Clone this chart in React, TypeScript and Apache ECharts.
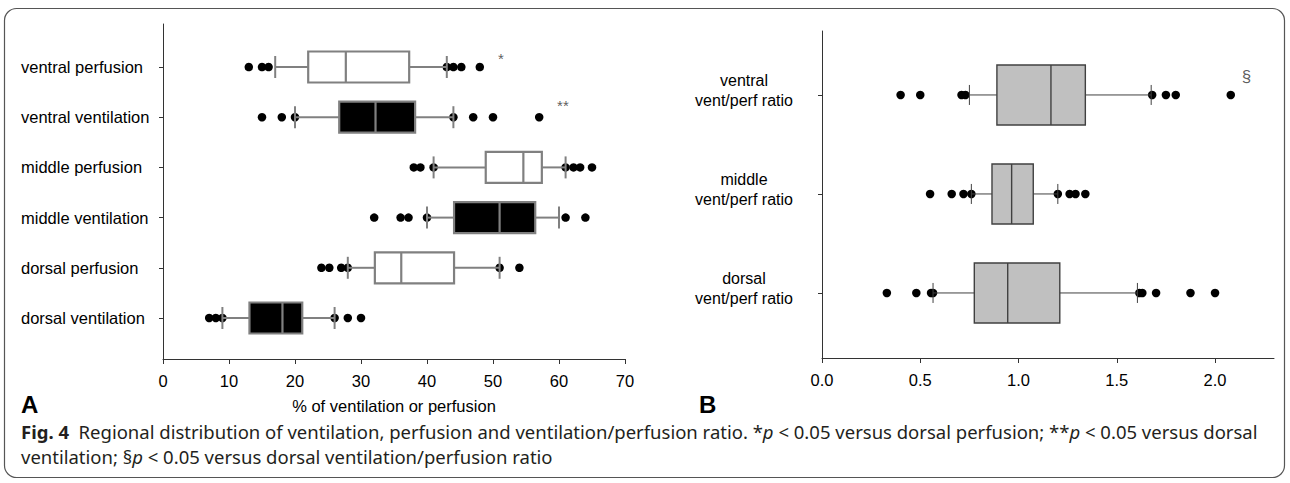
import React, { useEffect, useRef } from "react";
import * as echarts from "echarts";

// ---------- Panel A data ----------
const leftCategories = [
  "ventral perfusion",
  "ventral ventilation",
  "middle perfusion",
  "middle ventilation",
  "dorsal perfusion",
  "dorsal ventilation",
];
const leftPositions = [6, 5, 4, 3, 2, 1];
const leftFilled = [0, 1, 0, 1, 0, 1];
const leftWhiskerLow = [17, 20, 41, 40, 28, 9];
const leftQ1 = [22, 26.7, 48.9, 44.1, 32.1, 13.1];
const leftMedian = [27.7, 32.2, 54.6, 51.0, 36.1, 18.1];
const leftQ3 = [37.3, 38.2, 57.4, 56.4, 44.1, 21.1];
const leftWhiskerHigh = [43, 44, 61, 60, 51, 26];
const leftOutliers = [
  [13, 15, 16, 43, 44, 45.2, 48],
  [15, 18, 20, 44, 47, 50, 57],
  [38, 39, 41, 61, 62.2, 63.2, 65],
  [32, 36, 37.2, 40, 61, 64],
  [24, 25.2, 27, 28, 51, 54],
  [7, 8, 9, 26, 28, 30],
];
const leftNotes = ["*", "**"];
const leftNoteX = [51.2, 60.6];
const leftNoteY = [6.17, 5.24];
const leftTicks = [0, 10, 20, 30, 40, 50, 60, 70];

// ---------- Panel B data ----------
const rightCategories = [
  "ventral\nvent/perf ratio",
  "middle\nvent/perf ratio",
  "dorsal\nvent/perf ratio",
];
const rightPositions = [3, 2, 1];
const rightWhiskerLow = [0.75, 0.76, 0.565];
const rightQ1 = [0.89, 0.865, 0.775];
const rightMedian = [1.165, 0.965, 0.945];
const rightQ3 = [1.34, 1.075, 1.21];
const rightWhiskerHigh = [1.675, 1.2, 1.605];
const rightOutliers = [
  [0.4, 0.5, 0.71, 0.73, 1.68, 1.75, 1.8, 2.08],
  [0.55, 0.66, 0.72, 0.76, 1.2, 1.26, 1.29, 1.34],
  [0.33, 0.48, 0.555, 0.565, 1.615, 1.63, 1.7, 1.875, 2.0],
];
const rightNotes = ["§"];
const rightNoteX = [2.16];
const rightNoteY = [3.19];
const rightTicks = [0, 0.5, 1, 1.5, 2];

const AXIS_COLOR = "#333333";
const FONT = "'Liberation Sans', Arial, sans-serif";
const CAPTION_FONT = "'Noto Sans', 'Open Sans', sans-serif";
const CAPTION_SIZE = 18.5;
const LABEL_SIZE = 16.5;

function makeBoxRender(boxHalf: number, capHalf: number, style: any) {
  return (params: any, api: any) => {
    const pos = api.value(0);
    const lo = api.coord([api.value(1), pos]);
    const q1 = api.coord([api.value(2), pos]);
    const md = api.coord([api.value(3), pos]);
    const q3 = api.coord([api.value(4), pos]);
    const hi = api.coord([api.value(5), pos]);
    const filled = api.value(6) === 1;
    const y = lo[1];
    const lineStyle = { stroke: style.whisker, lineWidth: style.whiskerWidth };
    return {
      type: "group",
      children: [
        { type: "line", shape: { x1: lo[0], y1: y, x2: q1[0], y2: y }, style: lineStyle },
        { type: "line", shape: { x1: q3[0], y1: y, x2: hi[0], y2: y }, style: lineStyle },
        {
          type: "rect",
          shape: { x: q1[0], y: y - boxHalf, width: q3[0] - q1[0], height: boxHalf * 2 },
          style: {
            fill: filled ? style.filledFill : style.fill,
            stroke: style.border,
            lineWidth: style.borderWidth,
          },
        },
        {
          type: "line",
          shape: { x1: md[0], y1: y - boxHalf, x2: md[0], y2: y + boxHalf },
          style: { stroke: style.median, lineWidth: style.borderWidth },
        },
        { type: "line", shape: { x1: lo[0], y1: y - capHalf, x2: lo[0], y2: y + capHalf }, style: lineStyle },
        { type: "line", shape: { x1: hi[0], y1: y - capHalf, x2: hi[0], y2: y + capHalf }, style: lineStyle },
      ],
    };
  };
}

export default function App() {
  const ref = useRef<HTMLDivElement>(null);

  useEffect(() => {
    if (!ref.current) return;
    const chart = echarts.init(ref.current, null, { renderer: "svg" });

    const leftBoxData = leftCategories.map((_, i) => [
      leftPositions[i],
      leftWhiskerLow[i],
      leftQ1[i],
      leftMedian[i],
      leftQ3[i],
      leftWhiskerHigh[i],
      leftFilled[i],
    ]);
    const leftOutlierData: number[][] = [];
    leftOutliers.forEach((arr, i) => arr.forEach((v) => leftOutlierData.push([v, leftPositions[i]])));

    const rightBoxData = rightCategories.map((_, i) => [
      rightPositions[i],
      rightWhiskerLow[i],
      rightQ1[i],
      rightMedian[i],
      rightQ3[i],
      rightWhiskerHigh[i],
      0,
    ]);
    const rightOutlierData: number[][] = [];
    rightOutliers.forEach((arr, i) => arr.forEach((v) => rightOutlierData.push([v, rightPositions[i]])));
    // two-line labels sit a few pixels above their tick in the original
    const rightLabelValues = rightPositions.map((p) => p + 0.04);

    const axisCommon = {
      axisLine: { show: true, onZero: false, lineStyle: { color: AXIS_COLOR, width: 1 } },
      axisTick: { show: true, inside: false, length: 5, lineStyle: { color: AXIS_COLOR } },
      splitLine: { show: false },
    };

    const richCaption = {
      b: { fontWeight: "bold", fontSize: CAPTION_SIZE, fontFamily: CAPTION_FONT, fill: "#231f20" },
      i: { fontStyle: "italic", fontSize: CAPTION_SIZE, fontFamily: CAPTION_FONT, fill: "#231f20" },
    };

    const option: any = {
      animation: false,
      backgroundColor: "#ffffff",
      grid: [
        { left: 163, top: 24, width: 462, height: 335 },
        { left: 822, top: 31, width: 452, height: 327 },
      ],
      xAxis: [
        {
          type: "value",
          gridIndex: 0,
          min: 0,
          max: 70,
          ...axisCommon,
          axisTick: { ...axisCommon.axisTick, customValues: leftTicks },
          axisLabel: {
            customValues: leftTicks,
            fontSize: LABEL_SIZE,
            color: "#000",
            fontFamily: FONT,
            margin: 13,
          },
          name: "% of ventilation or perfusion",
          nameLocation: "middle",
          nameGap: 38,
          nameTextStyle: { fontSize: LABEL_SIZE, color: "#000", fontFamily: FONT },
        },
        {
          type: "value",
          gridIndex: 1,
          min: 0,
          max: 2.3,
          ...axisCommon,
          axisTick: { ...axisCommon.axisTick, customValues: rightTicks },
          axisLabel: {
            customValues: rightTicks,
            formatter: (v: number) => v.toFixed(1),
            fontSize: LABEL_SIZE,
            color: "#000",
            fontFamily: FONT,
            margin: 13,
          },
        },
      ],
      yAxis: [
        {
          type: "value",
          gridIndex: 0,
          min: 0.183,
          max: 6.857,
          ...axisCommon,
          axisTick: { ...axisCommon.axisTick, length: 4, customValues: leftPositions },
          axisLabel: {
            customValues: leftPositions,
            formatter: (v: number) => leftCategories[leftPositions.indexOf(Math.round(v))] || "",
            align: "left",
            margin: 142,
            fontSize: LABEL_SIZE,
            color: "#000",
            fontFamily: FONT,
          },
        },
        {
          type: "value",
          gridIndex: 1,
          min: 0.343,
          max: 3.646,
          ...axisCommon,
          axisTick: { ...axisCommon.axisTick, length: 4, customValues: rightPositions },
          axisLabel: {
            customValues: rightLabelValues,
            formatter: (v: number) => rightCategories[rightPositions.indexOf(Math.round(v))] || "",
            align: "center",
            margin: 78,
            lineHeight: 20,
            fontSize: 16,
            color: "#000",
            fontFamily: FONT,
          },
        },
      ],
      series: [
        {
          type: "scatter",
          xAxisIndex: 0,
          yAxisIndex: 0,
          data: leftOutlierData,
          symbolSize: 8.5,
          itemStyle: { color: "#000", opacity: 1 },
          z: 2,
        },
        {
          type: "custom",
          xAxisIndex: 0,
          yAxisIndex: 0,
          data: leftBoxData,
          encode: { x: [1, 2, 3, 4, 5], y: 0 },
          renderItem: makeBoxRender(15.5, 11, {
            whisker: "#808080",
            whiskerWidth: 2,
            fill: "#ffffff",
            filledFill: "#000000",
            border: "#808080",
            borderWidth: 2.2,
            median: "#808080",
          }),
          z: 3,
        },
        {
          type: "scatter",
          xAxisIndex: 0,
          yAxisIndex: 0,
          data: leftNotes.map((t, i) => ({ value: [leftNoteX[i], leftNoteY[i]], name: t })),
          symbolSize: 0,
          label: {
            show: true,
            position: "inside",
            formatter: (p: any) => p.name,
            fontSize: 15,
            color: "#333",
            fontFamily: FONT,
          },
          z: 4,
        },
        {
          type: "scatter",
          xAxisIndex: 1,
          yAxisIndex: 1,
          data: rightOutlierData,
          symbolSize: 8.5,
          itemStyle: { color: "#000", opacity: 1 },
          z: 2,
        },
        {
          type: "custom",
          xAxisIndex: 1,
          yAxisIndex: 1,
          data: rightBoxData,
          encode: { x: [1, 2, 3, 4, 5], y: 0 },
          renderItem: makeBoxRender(30, 10, {
            whisker: "#404040",
            whiskerWidth: 1,
            fill: "#c0c0c0",
            filledFill: "#c0c0c0",
            border: "#404040",
            borderWidth: 1.4,
            median: "#404040",
          }),
          z: 3,
        },
        {
          type: "scatter",
          xAxisIndex: 1,
          yAxisIndex: 1,
          data: rightNotes.map((t, i) => ({ value: [rightNoteX[i], rightNoteY[i]], name: t })),
          symbolSize: 0,
          label: {
            show: true,
            position: "inside",
            formatter: (p: any) => p.name,
            fontSize: 17,
            color: "#333",
            fontFamily: FONT,
          },
          z: 4,
        },
      ],
      graphic: [
        {
          type: "rect",
          shape: { x: 4.5, y: 8.5, width: 1280, height: 469, r: 12 },
          style: { fill: "none", stroke: "#555", lineWidth: 1.2 },
          silent: true,
          z: -1,
        },
        {
          type: "text",
          x: 21,
          y: 404,
          style: {
            text: "A",
            font: "bold 24px 'Liberation Sans', Arial, sans-serif",
            fill: "#000",
            textVerticalAlign: "middle",
          },
        },
        {
          type: "text",
          x: 699,
          y: 404,
          style: {
            text: "B",
            font: "bold 24px 'Liberation Sans', Arial, sans-serif",
            fill: "#000",
            textVerticalAlign: "middle",
          },
        },
        {
          type: "text",
          x: 21,
          y: 431,
          style: {
            text:
              "{b|Fig. 4}  Regional distribution of ventilation, perfusion and ventilation/perfusion ratio. *{i|p} < 0.05 versus dorsal perfusion; **{i|p} < 0.05 versus dorsal",
            font: CAPTION_SIZE + "px " + CAPTION_FONT,
            fill: "#231f20",
            textVerticalAlign: "middle",
            rich: richCaption,
          },
        },
        {
          type: "text",
          x: 21,
          y: 456,
          style: {
            text: "ventilation; §{i|p} < 0.05 versus dorsal ventilation/perfusion ratio",
            font: CAPTION_SIZE + "px " + CAPTION_FONT,
            fill: "#231f20",
            textVerticalAlign: "middle",
            rich: richCaption,
          },
        },
      ],
    };

    chart.setOption(option);
    return () => chart.dispose();
  }, []);

  return (
    <div
      ref={ref}
      style={{ position: "fixed", left: 0, top: 0, width: 1290, height: 483, background: "#fff" }}
    />
  );
}
